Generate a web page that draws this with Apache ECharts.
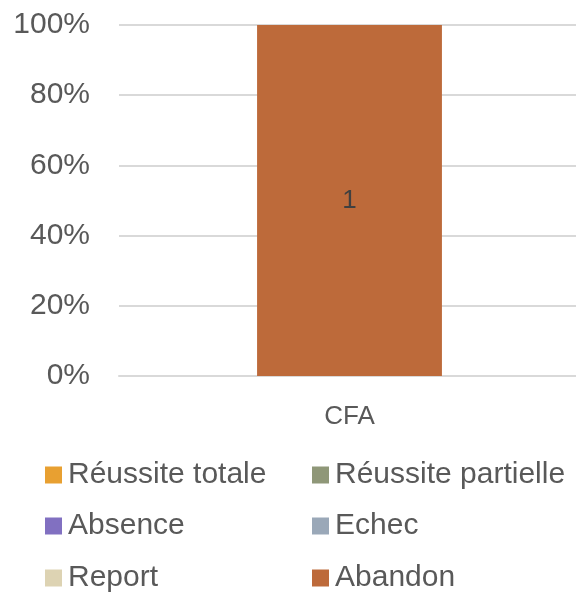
<!DOCTYPE html>
<html>
<head>
<meta charset="utf-8">
<script src="https://cdn.jsdelivr.net/npm/echarts@6/dist/echarts.min.js"></script>
<style>
  html, body { margin: 0; padding: 0; background: #fff; }
  #chart { width: 576px; height: 592px; }
</style>
</head>
<body>
<div id="chart"></div>
<script>
// Données du graphique
const categories = ["CFA"];
const reussiteTotale = [0];
const reussitePartielle = [0];
const absence = [0];
const echec = [0];
const report = [0];
const abandon = [1];
const yTicks = [0, 20, 40, 60, 80, 100];

const seriesDefs = [
  { name: "Réussite totale", values: reussiteTotale, color: "#e8a031" },
  { name: "Réussite partielle", values: reussitePartielle, color: "#8f9778" },
  { name: "Absence", values: absence, color: "#8170c1" },
  { name: "Echec", values: echec, color: "#9aa8b8" },
  { name: "Report", values: report, color: "#ddd3b3" },
  { name: "Abandon", values: abandon, color: "#bd6a3a" },
];

// totaux par catégorie pour l'empilement à 100 %
const totals = categories.map((c, i) =>
  seriesDefs.reduce((s, d) => s + d.values[i], 0)
);

const fontFam = "'Liberation Sans', Arial, sans-serif";

const chart = echarts.init(document.getElementById("chart"), null, { renderer: "canvas" });

// légende sur 2 colonnes : une légende par entrée
const legendCols = [45, 312];
const legendRows = [475, 526, 578];
const legends = seriesDefs.map((d, i) => ({
  left: legendCols[i % 2],
  top: legendRows[Math.floor(i / 2)] - 15,
  padding: 0,
  itemWidth: 17,
  itemHeight: 17,
  icon: "rect",
  textStyle: { fontSize: 30, color: "#595959", fontFamily: fontFam, padding: [0, 0, 0, 1] },
  data: [d.name],
}));

const option = {
  animation: false,
  grid: { left: 119, right: -4, top: 25, bottom: 216, outerBoundsMode: "none" },
  legend: legends,
  xAxis: {
    type: "category",
    data: categories,
    axisLine: { lineStyle: { color: "#d9d9d9", width: 2 } },
    axisTick: { show: false },
    axisLabel: { fontSize: 26, color: "#595959", fontFamily: fontFam, margin: 28 },
  },
  yAxis: {
    type: "value",
    min: yTicks[0],
    max: yTicks[yTicks.length - 1],
    interval: 20,
    axisLine: { show: false },
    axisTick: { show: false },
    splitLine: { lineStyle: { color: "#d9d9d9", width: 2 } },
    axisLabel: {
      fontSize: 30,
      color: "#595959",
      fontFamily: fontFam,
      margin: 29,
      formatter: (v) => v + "%",
    },
  },
  series: seriesDefs.map((d) => ({
    name: d.name,
    type: "bar",
    stack: "total",
    barWidth: "40.1%",
    itemStyle: { color: d.color },
    label: {
      show: true,
      position: "inside",
      fontSize: 26,
      color: "#404040",
      fontFamily: fontFam,
      formatter: (p) => (d.values[p.dataIndex] ? String(d.values[p.dataIndex]) : ""),
    },
    data: d.values.map((v, i) => (totals[i] ? (v / totals[i]) * 100 : 0)),
  })),
};

chart.setOption(option);
</script>
</body>
</html>
